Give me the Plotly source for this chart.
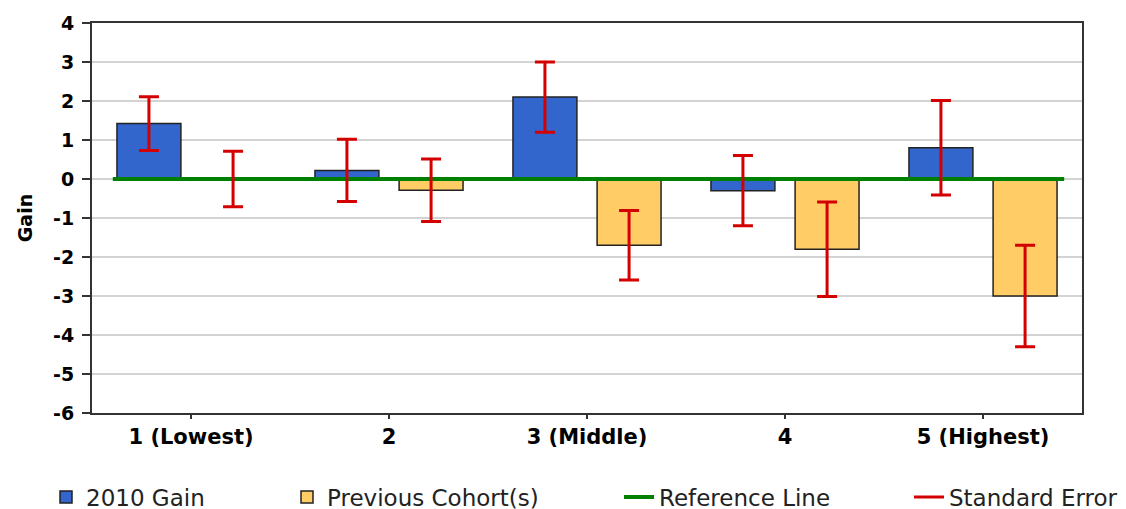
import plotly.graph_objects as go

# ---- data ----
categories = ["1 (Lowest)", "2", "3 (Middle)", "4", "5 (Highest)"]
gain_2010 = [1.42, 0.22, 2.10, -0.30, 0.80]
gain_2010_se = [0.69, 0.80, 0.90, 0.90, 1.21]
previous_cohort = [0.0, -0.29, -1.70, -1.80, -3.00]
previous_cohort_se = [0.71, 0.80, 0.89, 1.21, 1.30]
reference_value = 0
y_ticks = [4, 3, 2, 1, 0, -1, -2, -3, -4, -5, -6]

# ---- styling / layout constants ----
BLUE = "#3366CC"
YELLOW = "#FFCC66"
GREEN = "#008000"
RED = "#D40000"
OUTLINE = "#222222"
FONT = "DejaVu Sans"
BARGAP = 0.15
BARGROUPGAP = 0.24
offset = (1 - BARGAP) / 4  # centre offset of each bar in a 2-bar group
W, H = 1126, 509
PAGE_PAD = 8  # default body margin of the html page

xpos = list(range(len(categories)))

fig = go.Figure()

fig.add_trace(go.Bar(
    x=xpos, y=gain_2010, name="2010 Gain", legend="legend",
    marker=dict(color=BLUE, line=dict(color=OUTLINE, width=1.5)),
    hoverinfo="y",
))
fig.add_trace(go.Bar(
    x=xpos, y=previous_cohort, name="Previous Cohort(s)", legend="legend2",
    marker=dict(color=YELLOW, line=dict(color=OUTLINE, width=1.5)),
    hoverinfo="y",
))

# reference line
fig.add_trace(go.Scatter(
    x=[-0.5 + 0.105, len(categories) - 0.5 - 0.09],
    y=[reference_value, reference_value],
    mode="lines", name="Reference Line", legend="legend3",
    line=dict(color=GREEN, width=4),
    hoverinfo="skip",
))

# standard error bars (drawn above the reference line)
fig.add_trace(go.Scatter(
    x=[i - offset for i in xpos], y=gain_2010, mode="markers",
    marker=dict(size=1, color="rgba(0,0,0,0)"),
    error_y=dict(type="data", array=gain_2010_se, color=RED, thickness=3, width=10),
    showlegend=False, hoverinfo="skip",
))
fig.add_trace(go.Scatter(
    x=[i + offset for i in xpos], y=previous_cohort, mode="markers",
    marker=dict(size=1, color="rgba(0,0,0,0)"),
    error_y=dict(type="data", array=previous_cohort_se, color=RED, thickness=3, width=10),
    showlegend=False, hoverinfo="skip",
))
# legend entry for standard error
fig.add_trace(go.Scatter(
    x=[None], y=[None], mode="lines", name="Standard Error", legend="legend4",
    line=dict(color=RED, width=3),
))

legend_font = dict(family=FONT, size=23, color="#222222")


def leg(xpix):
    return dict(
        orientation="h", x=xpix / W, xref="container", xanchor="left",
        y=1 - (497 - PAGE_PAD) / H, yref="container", yanchor="middle",
        font=legend_font, bgcolor="rgba(0,0,0,0)",
    )


fig.update_layout(
    width=W, height=H,
    margin=dict(l=92 - PAGE_PAD, r=W - 1082 + PAGE_PAD, t=23 - PAGE_PAD,
                b=H - 413 + PAGE_PAD, autoexpand=False),
    paper_bgcolor="white", plot_bgcolor="white",
    barmode="group", bargap=BARGAP, bargroupgap=BARGROUPGAP,
    font=dict(family=FONT, color="black"),
    showlegend=True,
    legend=leg(38), legend2=leg(279), legend3=leg(611), legend4=leg(901),
    xaxis=dict(
        range=[-0.5, len(categories) - 0.5],
        tickmode="array", tickvals=xpos, ticktext=categories,
        tickfont=dict(family=FONT, size=21, color="black", weight="bold"),
        ticks="outside", ticklen=4, tickwidth=2, tickcolor="#333333",
        showline=True, linecolor="#333333", linewidth=2, mirror=True,
        showgrid=False, zeroline=False,
    ),
    yaxis=dict(
        range=[-6, 4],
        tickmode="array", tickvals=y_ticks, ticktext=[str(v) for v in y_ticks],
        tickfont=dict(family=FONT, size=19, color="black", weight="bold"),
        ticks="outside", ticklen=8, tickwidth=2, tickcolor="#333333",
        ticklabelstandoff=4,
        showline=True, linecolor="#333333", linewidth=2, mirror=True,
        showgrid=True, gridcolor="#D3D3D3", gridwidth=1.5,
        zeroline=False,
        title=dict(text="Gain", font=dict(family=FONT, size=19, color="black", weight="bold"),
                   standoff=15),
    ),
)

fig.write_html("out.html")
